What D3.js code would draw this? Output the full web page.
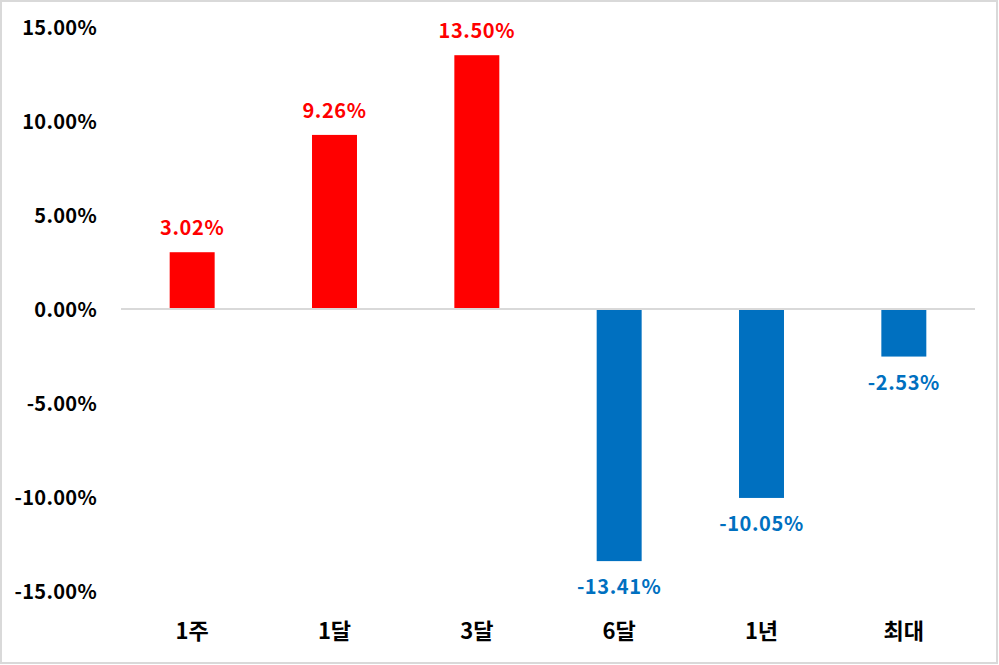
<!DOCTYPE html>
<html><head><meta charset="utf-8">
<script src="https://cdn.jsdelivr.net/npm/d3@7"></script>
<style>
body{margin:0;background:#fff;}
text{font-family:"Noto Sans CJK KR","Noto Sans",sans-serif;font-weight:bold;}
</style></head>
<body><svg id="c" width="999" height="665"></svg>
<script>
const categories = ["1주","1달","3달","6달","1년","최대"];
const values = [3.02, 9.26, 13.50, -13.41, -10.05, -2.53];
const yTicks = [15, 10, 5, 0, -5, -10, -15];

const svg = d3.select("#c");
svg.append("rect").attr("x",1).attr("y",1).attr("width",996).attr("height",662)
  .attr("fill","#fff").attr("stroke","#d9d9d9").attr("stroke-width",2);

const x = d3.scaleBand().domain(categories).range([121,975]).paddingInner(0.684).paddingOuter(0.342);
const y = d3.scaleLinear().domain([-15,15]).range([591,27]);

const yAxis = svg.append("g").attr("transform","translate(97,0)")
  .call(d3.axisLeft(y).tickValues(yTicks).tickSize(0).tickPadding(0).tickFormat(d=>d.toFixed(2)+"%"));
yAxis.select(".domain").remove();
yAxis.selectAll("text").attr("font-size",20).attr("fill","#000").attr("dy","0.35em")
  .style("font-family","'Noto Sans CJK KR',sans-serif").style("font-weight","bold").style("letter-spacing","0.3px");

svg.selectAll("rect.bar").data(values).enter().append("rect").attr("class","bar")
  .attr("x",(d,i)=>x(categories[i])).attr("width",x.bandwidth())
  .attr("y",d=>y(Math.max(0,d))).attr("height",d=>Math.abs(y(d)-y(0)))
  .attr("fill",d=>d>=0?"#ff0000":"#0070c0");

svg.append("line").attr("x1",121).attr("x2",975).attr("y1",y(0)).attr("y2",y(0))
  .attr("stroke","#d9d9d9").attr("stroke-width",2);

svg.selectAll("text.lbl").data(values).enter().append("text").attr("class","lbl")
  .attr("x",(d,i)=>x(categories[i])+x.bandwidth()/2)
  .attr("y",d=>d>=0?y(d)-24:y(d)+26)
  .attr("dy","0.35em")
  .attr("text-anchor","middle").attr("font-size",20)
  .style("letter-spacing","0.6px")
  .attr("fill",d=>d>=0?"#ff0000":"#0070c0")
  .text(d=>d.toFixed(2)+"%");

const xAxis = svg.append("g").attr("transform","translate(0,591)")
  .call(d3.axisBottom(x).tickSize(0).tickPadding(0));
xAxis.select(".domain").remove();
xAxis.selectAll("text").attr("font-size",22).attr("fill","#000").attr("dy","0").attr("y",48)
  .style("font-family","'Noto Sans CJK KR',sans-serif").style("font-weight","bold");
</script></body></html>
